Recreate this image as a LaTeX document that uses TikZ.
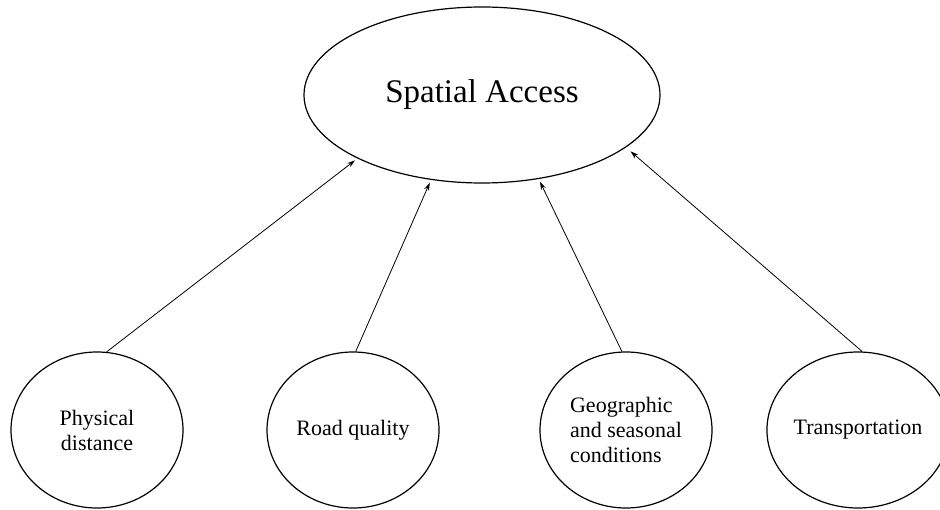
\documentclass[tikz,border=0pt]{standalone}
\usepackage{fontspec}
\setmainfont{Liberation Serif}
\usetikzlibrary{shapes.geometric,arrows.meta}
\begin{document}
\begin{tikzpicture}[x=1pt,y=-1pt,
  bigoval/.style={draw,ellipse,line width=1.2pt,inner sep=0pt,minimum width=356pt,minimum height=176pt,font=\fontsize{33}{39}\selectfont},
  factor/.style={draw,ellipse,line width=1.2pt,inner sep=0pt,minimum width=172pt,minimum height=156pt,font=\fontsize{22}{25}\selectfont},
  link/.style={line width=0.8pt,-{Stealth[length=8pt,width=5pt]},shorten >=3pt}]
\useasboundingbox (0,0) rectangle (940,510);
\node[bigoval] (sa) at (482,95) {Spatial Access};
\node[factor,align=center] (pd) at (97,430) {Physical\\distance};
\node[factor] (rq) at (353,430) {Road quality};
\node[factor,align=left] (gs) at (626,430) {Geographic\\and seasonal\\conditions};
\node[factor] (tr) at (858,430) {Transportation};
\draw[link] (pd.83) -- (sa.207);
\draw[link] (rq.88) -- (sa.239);
\draw[link] (gs.93) -- (sa.304);
\draw[link,shorten >=6pt] (tr.87) -- (sa.340);
\end{tikzpicture}
\end{document}
